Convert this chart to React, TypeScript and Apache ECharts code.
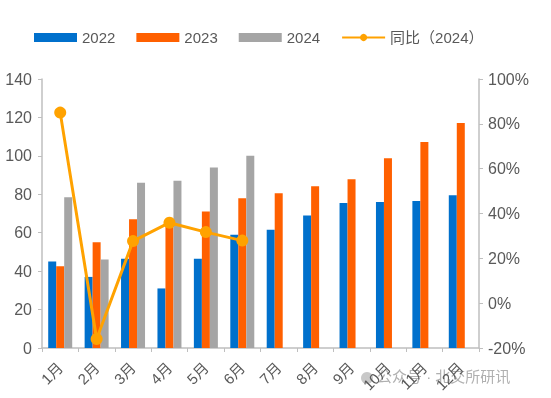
import React, { useEffect, useRef } from "react";
import * as echarts from "echarts";

const categories = ["1月", "2月", "3月", "4月", "5月", "6月", "7月", "8月", "9月", "10月", "11月", "12月"];
const s2022 = [45, 37, 46.5, 31, 46.5, 59, 61.5, 69, 75.5, 76, 76.5, 79.5];
const s2023 = [42.5, 55, 67, 64.5, 71, 78, 80.5, 84.2, 87.8, 98.7, 107.2, 117.1];
const s2024 = [78.5, 46, 86, 87, 94, 100, null, null, null, null, null, null];
const yoy2024 = [85, -16, 27.7, 35.9, 31.7, 27.9, null, null, null, null, null, null];
const leftTicks = { min: 0, max: 140, interval: 20 };
const rightTicks = { min: -20, max: 100, interval: 20 };

export default function App() {
  const ref = useRef<HTMLDivElement>(null);
  useEffect(() => {
    const chart = echarts.init(ref.current!, null, { renderer: "svg" });
    const textColor = "#595959";
    const axisColor = "#bfbfbf";
    const font = "Arial, 'Liberation Sans', 'Noto Sans CJK SC', sans-serif";
    chart.setOption({
      animation: false,
      textStyle: { fontFamily: font },
      legend: {
        top: 25,
        left: 29,
        itemWidth: 43,
        itemHeight: 9,
        itemGap: 21,
        textStyle: { color: textColor, fontSize: 15, fontFamily: font },
        data: [
          { name: "2022", icon: "rect" },
          { name: "2023", icon: "rect" },
          { name: "2024", icon: "rect" },
          { name: "同比（2024）" },
        ],
      },
      grid: { left: 42, right: 72, top: 79, bottom: 50 },
      xAxis: {
        type: "category",
        data: categories,
        axisLine: { lineStyle: { color: axisColor, width: 1.5 } },
        axisTick: { show: true, lineStyle: { color: axisColor }, length: 4 },
        axisLabel: { rotate: 45, color: textColor, fontSize: 15, margin: 17, interval: 0 },
      },
      yAxis: [
        {
          type: "value",
          ...leftTicks,
          position: "left",
          splitLine: { show: false },
          axisLine: { show: true, lineStyle: { color: axisColor, width: 1.5 } },
          axisTick: { show: true, length: 4, lineStyle: { color: axisColor } },
          axisLabel: { color: textColor, fontSize: 16, margin: 10 },
        },
        {
          type: "value",
          ...rightTicks,
          position: "right",
          splitLine: { show: false },
          axisLine: { show: true, lineStyle: { color: axisColor, width: 1.5 } },
          axisTick: { show: true, length: 4, lineStyle: { color: axisColor } },
          axisLabel: { color: textColor, fontSize: 16, margin: 9, formatter: "{value}%" },
        },
      ],
      series: [
        {
          name: "2022",
          type: "bar",
          data: s2022,
          barWidth: 8,
          barGap: "0%",
          itemStyle: { color: "#0070CC" },
        },
        {
          name: "2023",
          type: "bar",
          data: s2023,
          barWidth: 8,
          barGap: "0%",
          itemStyle: { color: "#FF6000" },
        },
        {
          name: "2024",
          type: "bar",
          data: s2024,
          barWidth: 8,
          barGap: "0%",
          itemStyle: { color: "#A5A5A5" },
        },
        {
          name: "同比（2024）",
          type: "line",
          yAxisIndex: 1,
          data: yoy2024,
          symbol: "circle",
          symbolSize: 12,
          lineStyle: { color: "#FFA200", width: 3 },
          itemStyle: { color: "#FFA200" },
        },
      ],
      graphic: [
        {
          type: "circle",
          shape: { cx: 367, cy: 378, r: 6 },
          style: { fill: "#c8c8c8" },
        },
        {
          type: "text",
          left: 377,
          top: 369,
          style: {
            text: "公众号 · 北交所研讯",
            fill: "#b0b0b0",
            fontSize: 15,
            fontFamily: font,
          },
        },
      ],
    });
    return () => chart.dispose();
  }, []);
  return <div ref={ref} style={{ position: "fixed", left: 0, top: 0, width: 551, height: 398 }} />;
}
